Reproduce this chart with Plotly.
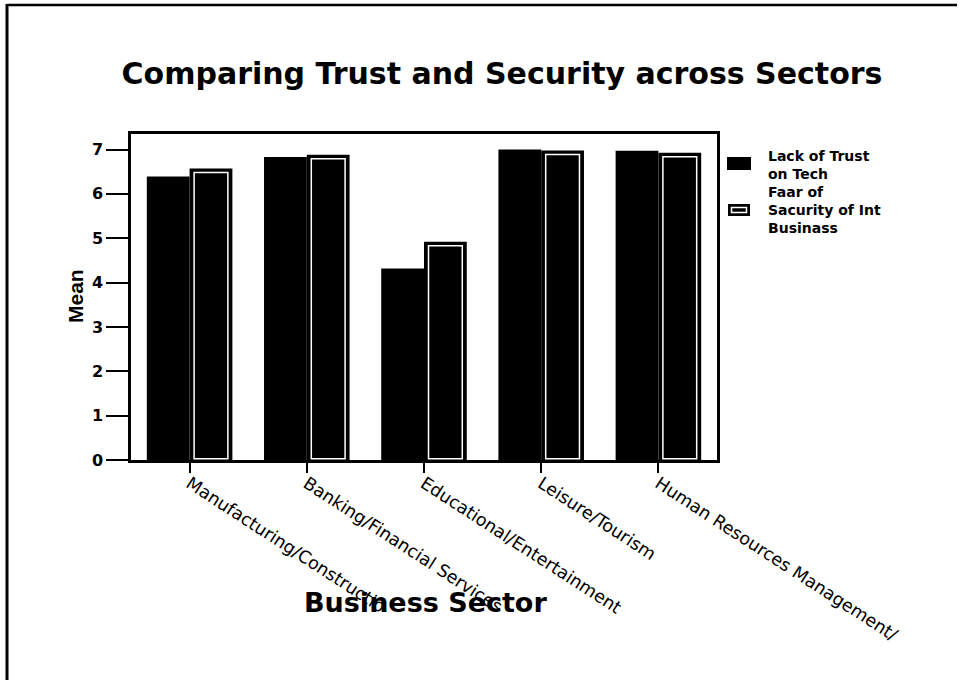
import plotly.graph_objects as go

# Mean scores by business sector
sectors = [
    "Manufacturing/Constructio",
    "Banking/Financial Services",
    "Educational/Entertainment",
    "Leisure/Tourism",
    "Human Resources Management/",
]
lack_of_trust = [6.39, 6.83, 4.32, 7.00, 6.97]
fear_of_security = [6.57, 6.88, 4.92, 6.98, 6.93]

y_ticks = [0, 1, 2, 3, 4, 5, 6, 7]
legend_labels = ["Lack of Trust<br>on Tech", "Faar of<br>Sacurity of Int<br>Businass"]

W, H = 961, 680
L, R, T, B = 131, 244, 134, 220
plot_w = W - L - R
plot_h = H - T - B
y_max = 7.35

BAR_W = 0.365
INSET_X = 4.5 / (plot_w / 5)
INSET_Y = 4.0 / (plot_h / y_max)
INSET_B = 0.03


def px(x):
    return (x - L) / plot_w


def py(y):
    return (H - B - y) / plot_h


fig = go.Figure()

fig.add_trace(go.Bar(
    x=sectors, y=lack_of_trust, name="Lack of Trust on Tech",
    offset=-BAR_W, width=BAR_W,
    marker=dict(color="black", line=dict(width=0)),
    showlegend=False,
))
fig.add_trace(go.Bar(
    x=sectors, y=fear_of_security, name="Fear of Security of Int Business",
    offset=0, width=BAR_W,
    marker=dict(color="black", line=dict(width=0)),
    showlegend=False,
))
# inner white outline of the second series
fig.add_trace(go.Bar(
    x=sectors, y=[v - INSET_Y - INSET_B for v in fear_of_security],
    base=INSET_B,
    offset=INSET_X, width=BAR_W - 2 * INSET_X,
    marker=dict(color="black", line=dict(color="white", width=1.5)),
    showlegend=False, hoverinfo="skip",
))

shapes = [
    # page frame
    dict(type="line", xref="paper", yref="paper", x0=px(7), x1=px(957), y0=py(5), y1=py(5),
         line=dict(color="black", width=2.5)),
    dict(type="line", xref="paper", yref="paper", x0=px(7), x1=px(7), y0=py(4), y1=py(680),
         line=dict(color="black", width=3)),
    # legend swatches
    dict(type="rect", xref="paper", yref="paper", x0=px(727), x1=px(751), y0=py(157), y1=py(170),
         fillcolor="black", line=dict(width=0)),
    dict(type="rect", xref="paper", yref="paper", x0=px(728), x1=px(750), y0=py(204), y1=py(216),
         fillcolor="black", line=dict(width=0)),
    dict(type="rect", xref="paper", yref="paper", x0=px(731.5), x1=px(746.5), y0=py(207.5), y1=py(212.5),
         fillcolor="black", line=dict(color="white", width=1.5)),
]

legend_font = dict(family="DejaVu Sans", size=14, color="black", weight="bold")
annotations = [
    dict(text=legend_labels[0], xref="paper", yref="paper", x=px(766), y=py(165),
         xanchor="left", yanchor="middle", align="left", showarrow=False, font=legend_font),
    dict(text=legend_labels[1], xref="paper", yref="paper", x=px(766), y=py(210),
         xanchor="left", yanchor="middle", align="left", showarrow=False, font=legend_font),
    dict(text="Business Sector", xref="paper", yref="paper", x=px(425), y=py(602),
         xanchor="center", yanchor="middle", showarrow=False,
         font=dict(family="DejaVu Sans", size=27, color="black", weight="bold")),
    dict(text="Mean", xref="paper", yref="paper", x=px(75), y=py(296),
         xanchor="center", yanchor="middle", showarrow=False, textangle=-90,
         font=dict(family="Liberation Sans Narrow, Liberation Sans, Arial, sans-serif",
                   size=21, color="black", weight="bold")),
]

fig.update_layout(
    width=W, height=H,
    margin=dict(l=L, r=R, t=T, b=B),
    paper_bgcolor="white", plot_bgcolor="white",
    barmode="overlay",
    showlegend=False,
    title=dict(text="Comparing Trust and Security across Sectors",
               xref="container", yref="container", x=502 / W, y=1 - 73 / H,
               xanchor="center", yanchor="middle",
               font=dict(family="DejaVu Sans", size=30, color="black", weight="bold")),
    shapes=shapes,
    annotations=annotations,
)

fig.update_xaxes(
    type="category", range=[-0.5, 4.5],
    showline=True, linecolor="black", linewidth=2.5, mirror=True,
    ticks="outside", ticklen=10, tickwidth=2, tickcolor="black",
    tickangle=33, showgrid=False, ticklabelstandoff=-6,
    tickfont=dict(family="DejaVu Sans", size=17.5, color="black"),
)
fig.update_yaxes(
    range=[0, y_max], tickvals=y_ticks, ticktext=[str(v) for v in y_ticks],
    showline=True, linecolor="black", linewidth=2.5, mirror=True,
    ticks="outside", ticklen=22, tickwidth=2, tickcolor="black",
    showgrid=False, zeroline=False,
    tickfont=dict(family="DejaVu Sans", size=16, color="black", weight="bold"),
)

fig.write_html("out.html")
